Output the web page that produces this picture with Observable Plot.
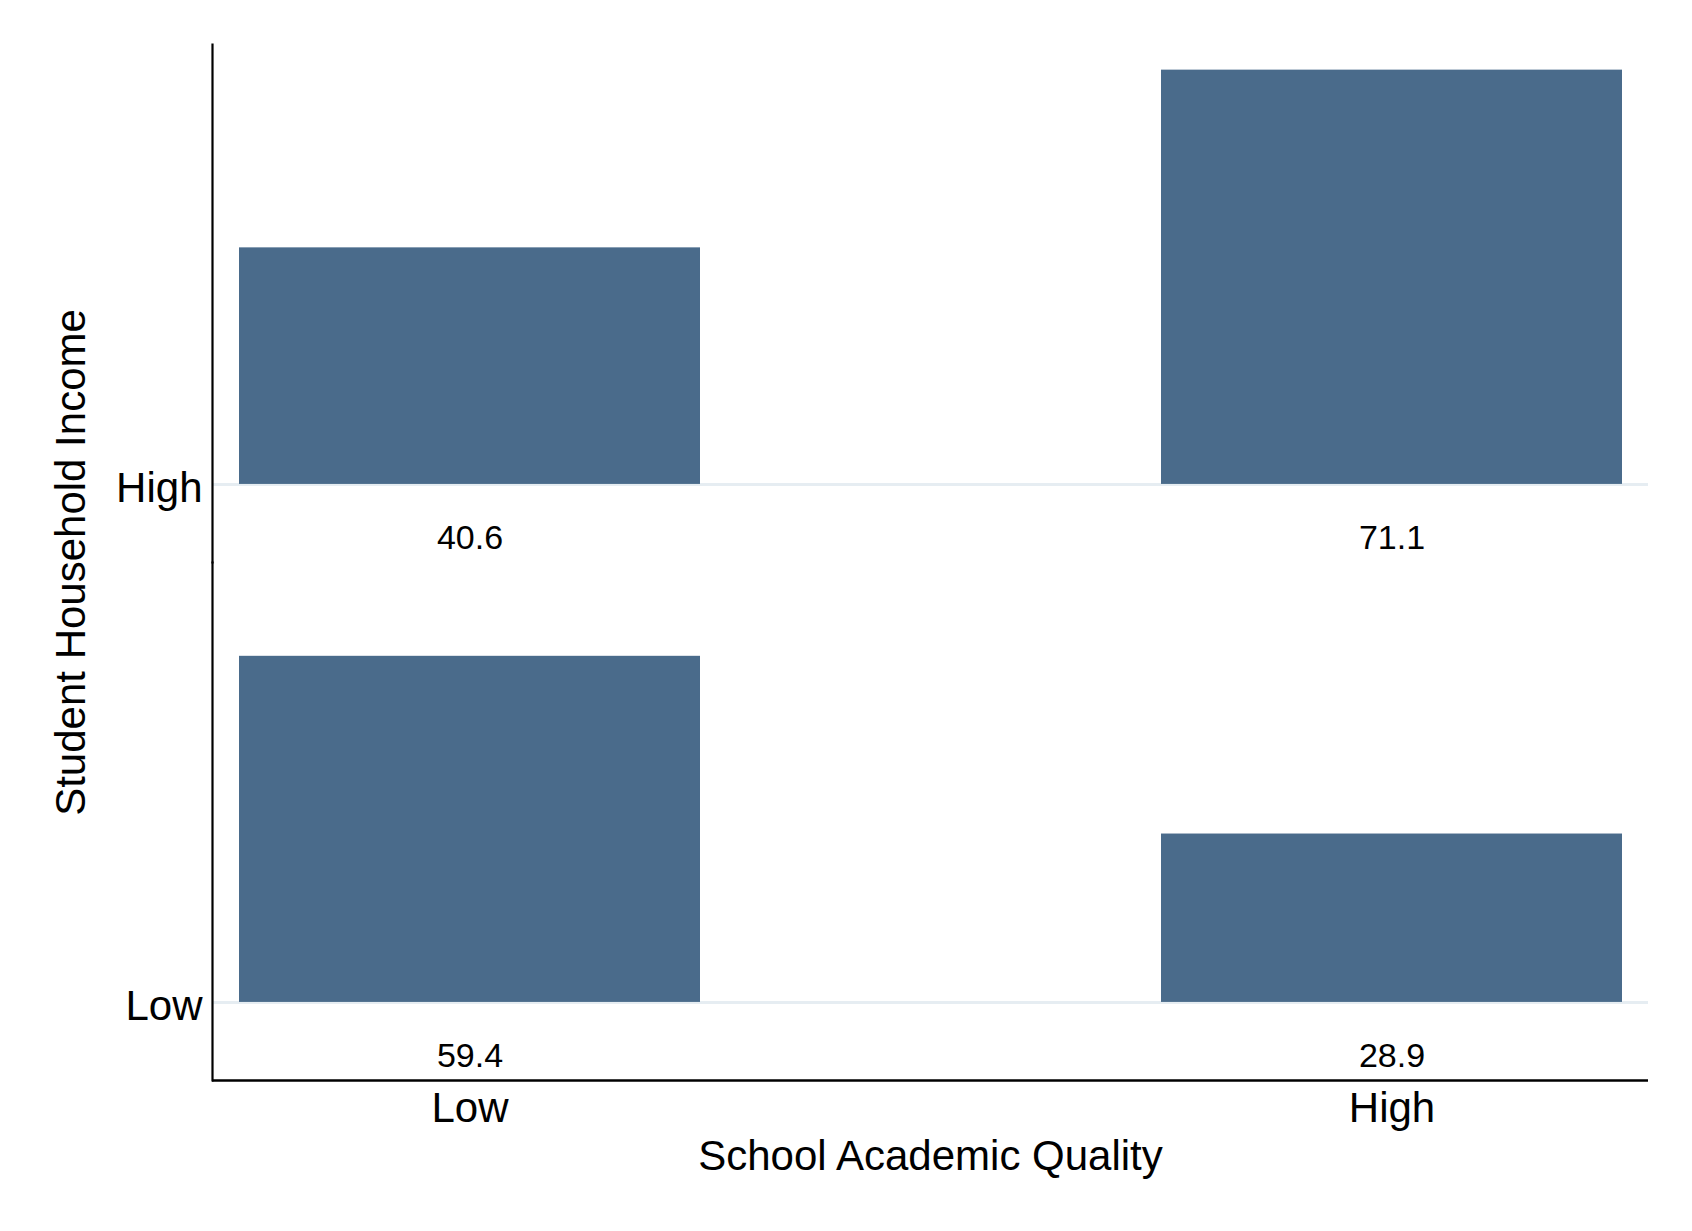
<!DOCTYPE html>
<html>
<head>
<meta charset="utf-8">
<script src="https://cdn.jsdelivr.net/npm/d3@7"></script>
<script src="https://cdn.jsdelivr.net/npm/@observablehq/plot@0.6"></script>
<style>
  html, body { margin: 0; padding: 0; background: #ffffff; }
  #chart svg { display: block; }
</style>
</head>
<body>
<div id="chart"></div>
<script>
// Categories
const qualityLevels = ["Low", "High"];          // School Academic Quality (x)
const incomeLevels = ["High", "Low"];           // Student Household Income (rows, top to bottom)
// Series values (percent of students, by school quality column)
const highIncomeValues = [40.6, 71.1];
const lowIncomeValues = [59.4, 28.9];
// Titles
const xTitle = "School Academic Quality";
const yTitle = "Student Household Income";
// Per-row value axis extent
const yDomain = [-13.4, 75.5];

const data = [
  ...qualityLevels.map((q, i) => ({income: "High", quality: q, pct: highIncomeValues[i]})),
  ...qualityLevels.map((q, i) => ({income: "Low", quality: q, pct: lowIncomeValues[i]}))
];

const font = "'Liberation Sans', Arial, Helvetica, sans-serif";

const chart = Plot.plot({
  width: 1692,
  height: 1231,
  marginTop: 44,
  marginBottom: 151,
  marginLeft: 212,
  marginRight: 44,
  style: {fontFamily: font, fontSize: "42px", color: "#000", background: "#fff"},
  fy: {domain: incomeLevels, padding: 0, axis: null, label: null},
  facet: {marginTop: 0, marginBottom: 0, marginLeft: 0, marginRight: 0},
  x: {type: "band", domain: qualityLevels, paddingInner: 0.5, paddingOuter: 0.028,
      axis: "bottom", tickSize: 0, tickPadding: 12, label: null},
  y: {domain: yDomain, axis: null},
  marks: [
    Plot.ruleY([0], {stroke: "#e6edf2", strokeWidth: 3}),
    Plot.barY(data, {x: "quality", y: "pct", fy: "income", fill: "#4a6b8b"}),
    Plot.text(data, {x: "quality", y: () => 0, fy: "income", text: d => d.pct.toFixed(1),
      dy: 54, fontSize: 34, fill: "#000"}),
    Plot.text(incomeLevels, {fy: d => d, y: () => 0, text: d => d, frameAnchor: "left",
      textAnchor: "end", dx: -10, dy: 4, fontSize: 42, fill: "#000"}),
    Plot.frame({anchor: "left", stroke: "#000", strokeWidth: 2.2}),
    Plot.ruleY([{row: "Low"}], {fy: "row", y: () => yDomain[0], stroke: "#000", strokeWidth: 2.5}),
    Plot.text([xTitle], {fy: () => "Low", frameAnchor: "bottom", lineAnchor: "middle",
      textAnchor: "middle", dy: 76, fontSize: 42, fill: "#000"}),
    Plot.text([yTitle], {fy: () => "High", frameAnchor: "bottom-left", lineAnchor: "middle",
      textAnchor: "middle", dx: -141, rotate: -90, fontSize: 42, fill: "#000"})
  ]
});
document.getElementById("chart").appendChild(chart);
</script>
</body>
</html>
